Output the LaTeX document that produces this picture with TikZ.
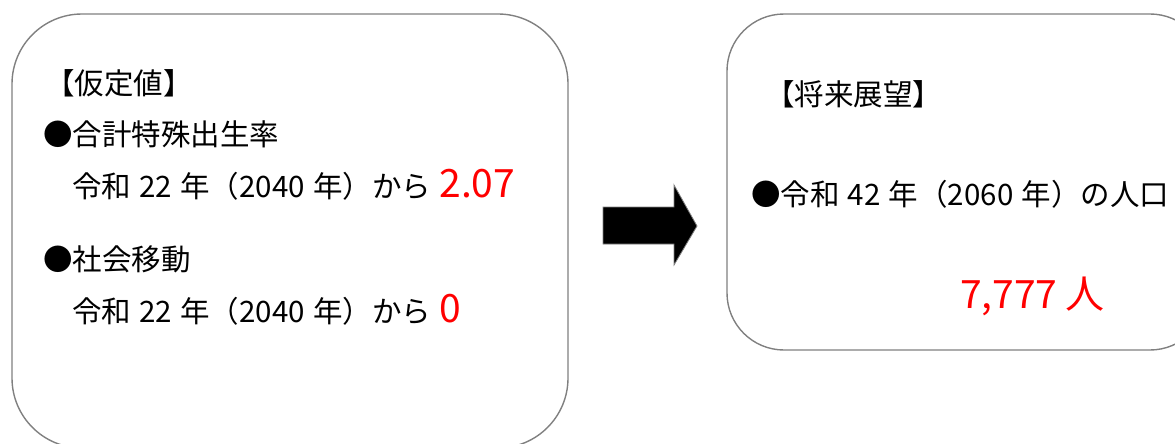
\documentclass[tikz,border=0pt]{standalone}
\usepackage{fontspec}
\setmainfont{Noto Sans CJK JP}
\usetikzlibrary{positioning}
\definecolor{framegray}{RGB}{128,128,128}
\newcommand{\txtfont}{\fontsize{29.5}{35}\selectfont\spaceskip 0.28em\relax}
\newcommand{\bigfont}{\fontsize{39}{46}\selectfont\spaceskip 0.2em\relax}
\tikzset{panel/.style = {draw = framegray, line width = 1.4pt}}
\tikzset{txt/.style = {anchor = base west, inner sep = 0pt, font = \txtfont}}
\tikzset{big/.style = {text = red, font = \bigfont}}

\begin{document}
\begin{tikzpicture}[x = 1pt, y = -1pt]
	\useasboundingbox (0, 0) rectangle (1175, 444);
	\clip (0, 0) rectangle (1175, 444);

	% frames
	\draw[panel, rounded corners = 70pt] (12, 14) rectangle (568, 448);
	\draw[panel, rounded corners = 57pt] (727, 14) rectangle (1207, 350);

	% arrow
	\draw[fill = black, draw = framegray, line width = 0.8pt]
		(603, 207) -- (674, 207) -- (674, 185) -- (697, 226) -- (674, 265) -- (674, 244) -- (603, 244) -- cycle;

	% left panel
	\node[txt] (title) at (45, 95) {【仮定値】};
	\node[txt] (birth) at (43, 145) {●合計特殊出生率};
	\node[txt] (birthval) at (72, 197) {令和 22 年（2040 年）から \textcolor{red}{\fontsize{39}{46}\selectfont 2.07}};
	\node[txt] (move) at (43, 270) {●社会移動};
	\node[txt] (moveval) at (72, 322) {令和 22 年（2040 年）から \textcolor{red}{\fontsize{39}{46}\selectfont 0}};

	% right panel
	\node[txt] (future) at (765, 105) {【将来展望】};
	\node[txt] (pop) at (751, 205) {●令和 42 年（2060 年）の人口};
	\node[txt, big] (popval) at (960, 308) {7,777 人};
\end{tikzpicture}
\end{document}
